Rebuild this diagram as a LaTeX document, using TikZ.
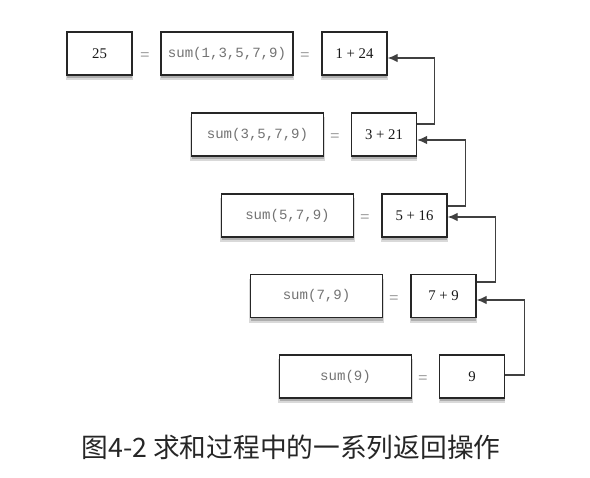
\documentclass[tikz,border=0pt]{standalone}
\usepackage{fontspec}
\setmainfont{Liberation Serif}
\setmonofont{Liberation Mono}
\newfontfamily\cjk{Noto Sans CJK SC}
\usetikzlibrary{arrows.meta,shadows}

\begin{document}
\begin{tikzpicture}[>={Latex[length=7pt,width=6pt]}, x=0.025cm, y=-0.025cm,
    boxbase/.style={draw=black!85, line width=1pt, fill=white, minimum height=1.075cm,
        drop shadow={shadow xshift=0pt, shadow yshift=-3.2pt, shadow scale=1.02, opacity=0.15, fill=black},
        drop shadow={shadow xshift=0.3pt, shadow yshift=-2.2pt, opacity=0.3, fill=black!70}},
    numbox/.style={boxbase, minimum width=1.625cm, font=\fontsize{10.5}{12}\selectfont, text=black!90},
    callbox/.style={boxbase, minimum width=3.3cm, font=\ttfamily\fontsize{10}{12}\selectfont, text=black!55},
    eqsign/.style={font=\fontsize{12}{14}\selectfont, text=black!50},
    ret/.style={->, draw=black!75, line width=0.8pt}]
    \useasboundingbox (0,0) rectangle (590,478);

    % 1. Hàng trên cùng: 25 = sum(1,3,5,7,9) = 1 + 24
    \node[numbox] (n25) at (99.5,53.5) {25};
    \node[eqsign] (e1a) at (145,57) {=};
    \node[callbox] (s1) at (227,53.5) {sum(1,3,5,7,9)};
    \node[eqsign] (e1b) at (305,57) {=};
    \node[numbox] (r1) at (354.5,53.5) {1 + 24};

    % 2. Các lời gọi đệ quy tiếp theo
    \node[callbox] (s2) at (257.5,134.5) {sum(3,5,7,9)};
    \node[eqsign] (e2) at (335,138) {=};
    \node[numbox] (r2) at (384,134.5) {3 + 21};

    \node[callbox] (s3) at (287.5,215.5) {sum(5,7,9)};
    \node[eqsign] (e3) at (365,219) {=};
    \node[numbox] (r3) at (414.5,215.5) {5 + 16};

    \node[callbox] (s4) at (316.5,296) {sum(7,9)};
    \node[eqsign] (e4) at (394,300) {=};
    \node[numbox] (r4) at (443.5,296) {7 + 9};

    \node[callbox] (s5) at (345.5,376.5) {sum(9)};
    \node[eqsign] (e5) at (423,380) {=};
    \node[numbox] (r5) at (472,376.5) {9};

    % 3. Các mũi tên trả giá trị về hàng trên
    \draw[ret] (r2.east |- 0,124) -- ++(17,0) |- (r1.east |- 0,58);
    \draw[ret] (r3.east |- 0,206) -- ++(18,0) |- (r2.east |- 0,140);
    \draw[ret] (r4.east |- 0,282) -- ++(19,0) |- (r3.east |- 0,217);
    \draw[ret] (r5.east |- 0,375) -- ++(19,0) |- (r4.east |- 0,300);

    % 4. Chú thích
    \node[font=\cjk\fontsize{19}{22}\selectfont, text=black!85] (cap) at (291,447)
        {图4-2 求和过程中的一系列返回操作};
\end{tikzpicture}
\end{document}
